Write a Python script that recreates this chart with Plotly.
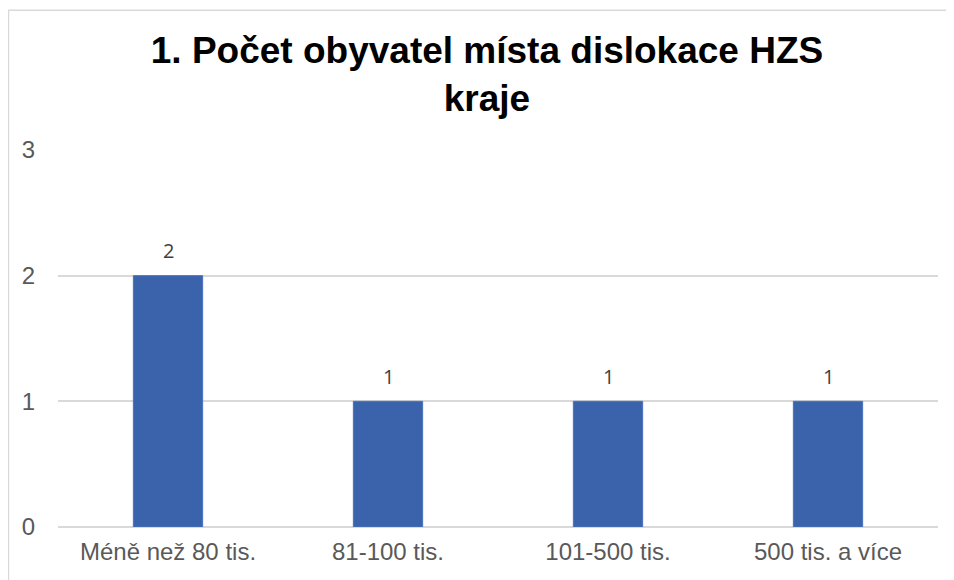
import plotly.graph_objects as go

categories = ["Méně než 80 tis.", "81-100 tis.", "101-500 tis.", "500 tis. a více"]
values = [2, 1, 1, 1]
y_ticks = [0, 1, 2, 3]
title_text = "1. Počet obyvatel místa dislokace HZS<br>kraje"

fig = go.Figure()
fig.add_trace(go.Bar(
    x=categories, y=values,
    marker=dict(color="#3A63AC", line=dict(color="#4A72BE", width=1)),
    width=0.315,
    cliponaxis=False,
))
for c, v in zip(categories, values):
    fig.add_annotation(x=c, y=v, text=str(v), showarrow=False, yanchor="middle", yshift=25,
                       font=dict(family="Open Sans, DejaVu Sans", size=20, color="#404040"))

fig.update_layout(
    width=954, height=580,
    margin=dict(l=50, r=24, t=142, b=61),
    paper_bgcolor="white", plot_bgcolor="white",
    title=dict(text=title_text, x=479 / 954, xanchor="center", y=1 - 55/580, yanchor="middle",
               font=dict(family="Liberation Sans, Arial", size=37, color="#000000", weight="bold")),
    showlegend=False,
    xaxis=dict(showgrid=False, showline=False, ticks="", ticklabelstandoff=8,
               tickfont=dict(family="Liberation Sans, Arial", size=24, color="#595959")),
    yaxis=dict(range=[0, 3], tickvals=y_ticks, showgrid=True, gridcolor="#D9D9D9", gridwidth=1.5,
               zeroline=True, zerolinecolor="#D9D9D9", zerolinewidth=1.5, showline=False,
               tickfont=dict(family="Liberation Sans, Arial", size=24, color="#595959"),
               ticklabelstandoff=22),
    shapes=[dict(type="rect", xref="paper", yref="paper", x0=-0.0563, x1=1.2, y0=-0.4, y1=1.371,
                 line=dict(color="#D9D9D9", width=1.5), fillcolor="rgba(0,0,0,0)", layer="below")],
)

fig.write_html("out.html")
